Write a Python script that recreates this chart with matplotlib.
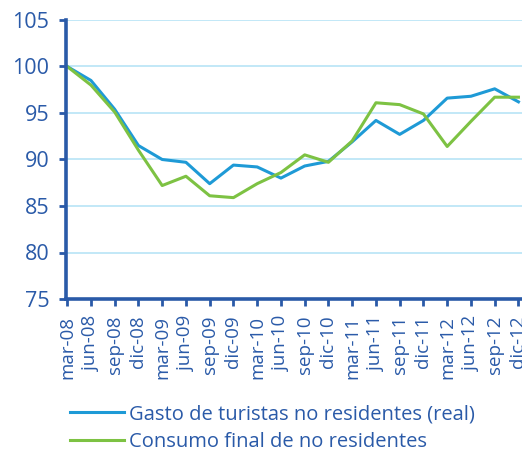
import matplotlib
matplotlib.use("Agg")
import matplotlib.pyplot as plt

# quarterly labels, mar-08 .. dic-12
quarters = ["mar", "jun", "sep", "dic"]
years = ["08", "09", "10", "11", "12"]
labels = [f"{q}-{y}" for y in years for q in quarters]

gasto = [100.0, 98.5, 95.4, 91.5, 90.0, 89.7, 87.4, 89.4, 89.2, 88.0,
         89.3, 89.8, 91.9, 94.2, 92.7, 94.2, 96.6, 96.8, 97.6, 96.2]
consumo = [100.0, 98.0, 95.1, 91.0, 87.2, 88.2, 86.1, 85.9, 87.4, 88.6,
           90.5, 89.7, 92.0, 96.1, 95.9, 94.9, 91.4, 94.1, 96.7, 96.7]
yticks = [75, 80, 85, 90, 95, 100, 105]

DARK = "#2A5AA8"
BLUE = "#1E9AD6"
GREEN = "#7DC243"
GRID = "#BDE6F7"

plt.rcParams["font.family"] = ["Open Sans", "DejaVu Sans"]

fig = plt.figure(figsize=(5.22, 4.54), dpi=100)
ax = fig.add_axes([66 / 522, 1 - 299 / 454, 1 - 66 / 522, (299 - 20) / 454])

x = list(range(len(labels)))
l1, = ax.plot(x, gasto, color=BLUE, lw=2.2, label="Gasto de turistas no residentes (real)")
l2, = ax.plot(x, consumo, color=GREEN, lw=2.2, label="Consumo final de no residentes")

ax.set_ylim(75, 105)
ax.set_xlim(-0.05, 19.15)
ax.set_yticks(yticks)
ax.set_xticks(x)
ax.set_xticklabels(labels, rotation=90)
ax.grid(axis="y", color=GRID, lw=1.3)
ax.set_axisbelow(True)

for s in ["top", "right"]:
    ax.spines[s].set_visible(False)
for s in ["left", "bottom"]:
    ax.spines[s].set_color(DARK)
    ax.spines[s].set_linewidth(2.6)
ax.tick_params(colors=DARK, width=2, length=5)
ax.tick_params(axis="y", labelsize=15.5, pad=7)
ax.tick_params(axis="x", labelsize=13.5, pad=7)

fig.legend(handles=[l1, l2], loc="upper left", bbox_to_anchor=(62 / 522, 1 - 396 / 454),
           frameon=False, fontsize=14.5, labelcolor=DARK, handlelength=2.7,
           handletextpad=0.25, labelspacing=0.4, borderaxespad=0)

fig.savefig("out.png", dpi=100)
